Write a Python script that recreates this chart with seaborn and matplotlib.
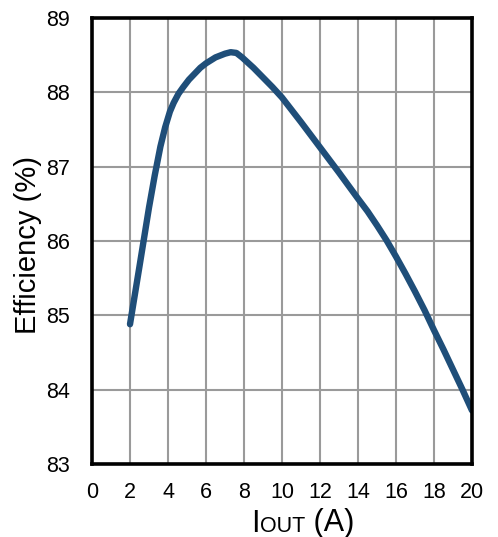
import matplotlib
matplotlib.use("Agg")
import matplotlib.pyplot as plt
import seaborn as sns
import pandas as pd

# Data
iout = [2.0, 2.5, 3.0, 3.3, 3.6, 3.85, 4.1, 4.3, 4.55, 4.8, 5.1, 5.4, 5.7, 6.0, 6.5, 7.0, 7.3,
        7.6, 7.9, 8.2, 8.5, 9.0, 9.5, 10.0, 11.0, 12.0, 13.0, 14.0, 14.5, 15.0, 15.5, 16.0,
        16.5, 17.0, 17.5, 18.0, 18.5, 19.0, 19.5, 20.0]
efficiency = [84.88, 85.66, 86.45, 86.88, 87.27, 87.53, 87.74, 87.86, 87.98, 88.07, 88.17, 88.25,
              88.33, 88.39, 88.47, 88.52, 88.54, 88.53, 88.47, 88.40, 88.33, 88.20, 88.07, 87.93,
              87.60, 87.26, 86.92, 86.57, 86.40, 86.21, 86.01, 85.79, 85.56, 85.32, 85.07, 84.80,
              84.54, 84.27, 84.00, 83.72]
x_ticks = [0, 2, 4, 6, 8, 10, 12, 14, 16, 18, 20]
y_ticks = [83, 84, 85, 86, 87, 88, 89]

df = pd.DataFrame({"Iout": iout, "Efficiency": efficiency})

sns.set_theme(style="white")
plt.rcParams["font.family"] = ["Liberation Sans", "DejaVu Sans"]

W, H = 498, 537
fig = plt.figure(figsize=(W / 100, H / 100), dpi=100)
ax = fig.add_axes([92 / W, 1 - 464 / H, (472 - 92) / W, (464 - 18) / H])

sns.lineplot(data=df, x="Iout", y="Efficiency", ax=ax, color="#1F4E79", linewidth=4.6,
             sort=False, estimator=None, solid_capstyle="round", solid_joinstyle="round",
             zorder=3)

ax.set_xlim(0, 20)
ax.set_ylim(83, 89)
ax.set_xticks(x_ticks)
ax.set_yticks(y_ticks)
ax.set_xticklabels([str(v) for v in x_ticks])
ax.set_yticklabels([str(v) for v in y_ticks])
ax.grid(True, color="#9A9A9A", linewidth=1.5)
ax.set_axisbelow(True)
for s in ax.spines.values():
    s.set_visible(True)
    s.set_color("black")
    s.set_linewidth(2.6)
    s.set_zorder(4)
ax.tick_params(axis="both", length=0, labelsize=15.5, colors="black")
ax.tick_params(axis="y", pad=16)
ax.tick_params(axis="x", pad=13)
ax.set_xlabel("")
ax.set_ylabel("")

# Y label
fig.text(28 / W, 1 - 245 / H, "Efficiency (%)", rotation=90, fontsize=21,
         ha="center", va="center", color="black")

# X label: I + small "OUT" + " (A)", baseline aligned
renderer = fig.canvas.get_renderer()
base_y = 5.5 / H
t1 = fig.text(251 / W, base_y, "I", fontsize=22, ha="left", va="baseline", color="black")
bb = t1.get_window_extent(renderer)
t2 = fig.text(bb.x1 / W, base_y, "OUT", fontsize=15.5, ha="left", va="baseline", color="black")
bb2 = t2.get_window_extent(renderer)
fig.text(bb2.x1 / W, base_y, " (A)", fontsize=22, ha="left", va="baseline", color="black")

fig.savefig("out.png", dpi=100)
